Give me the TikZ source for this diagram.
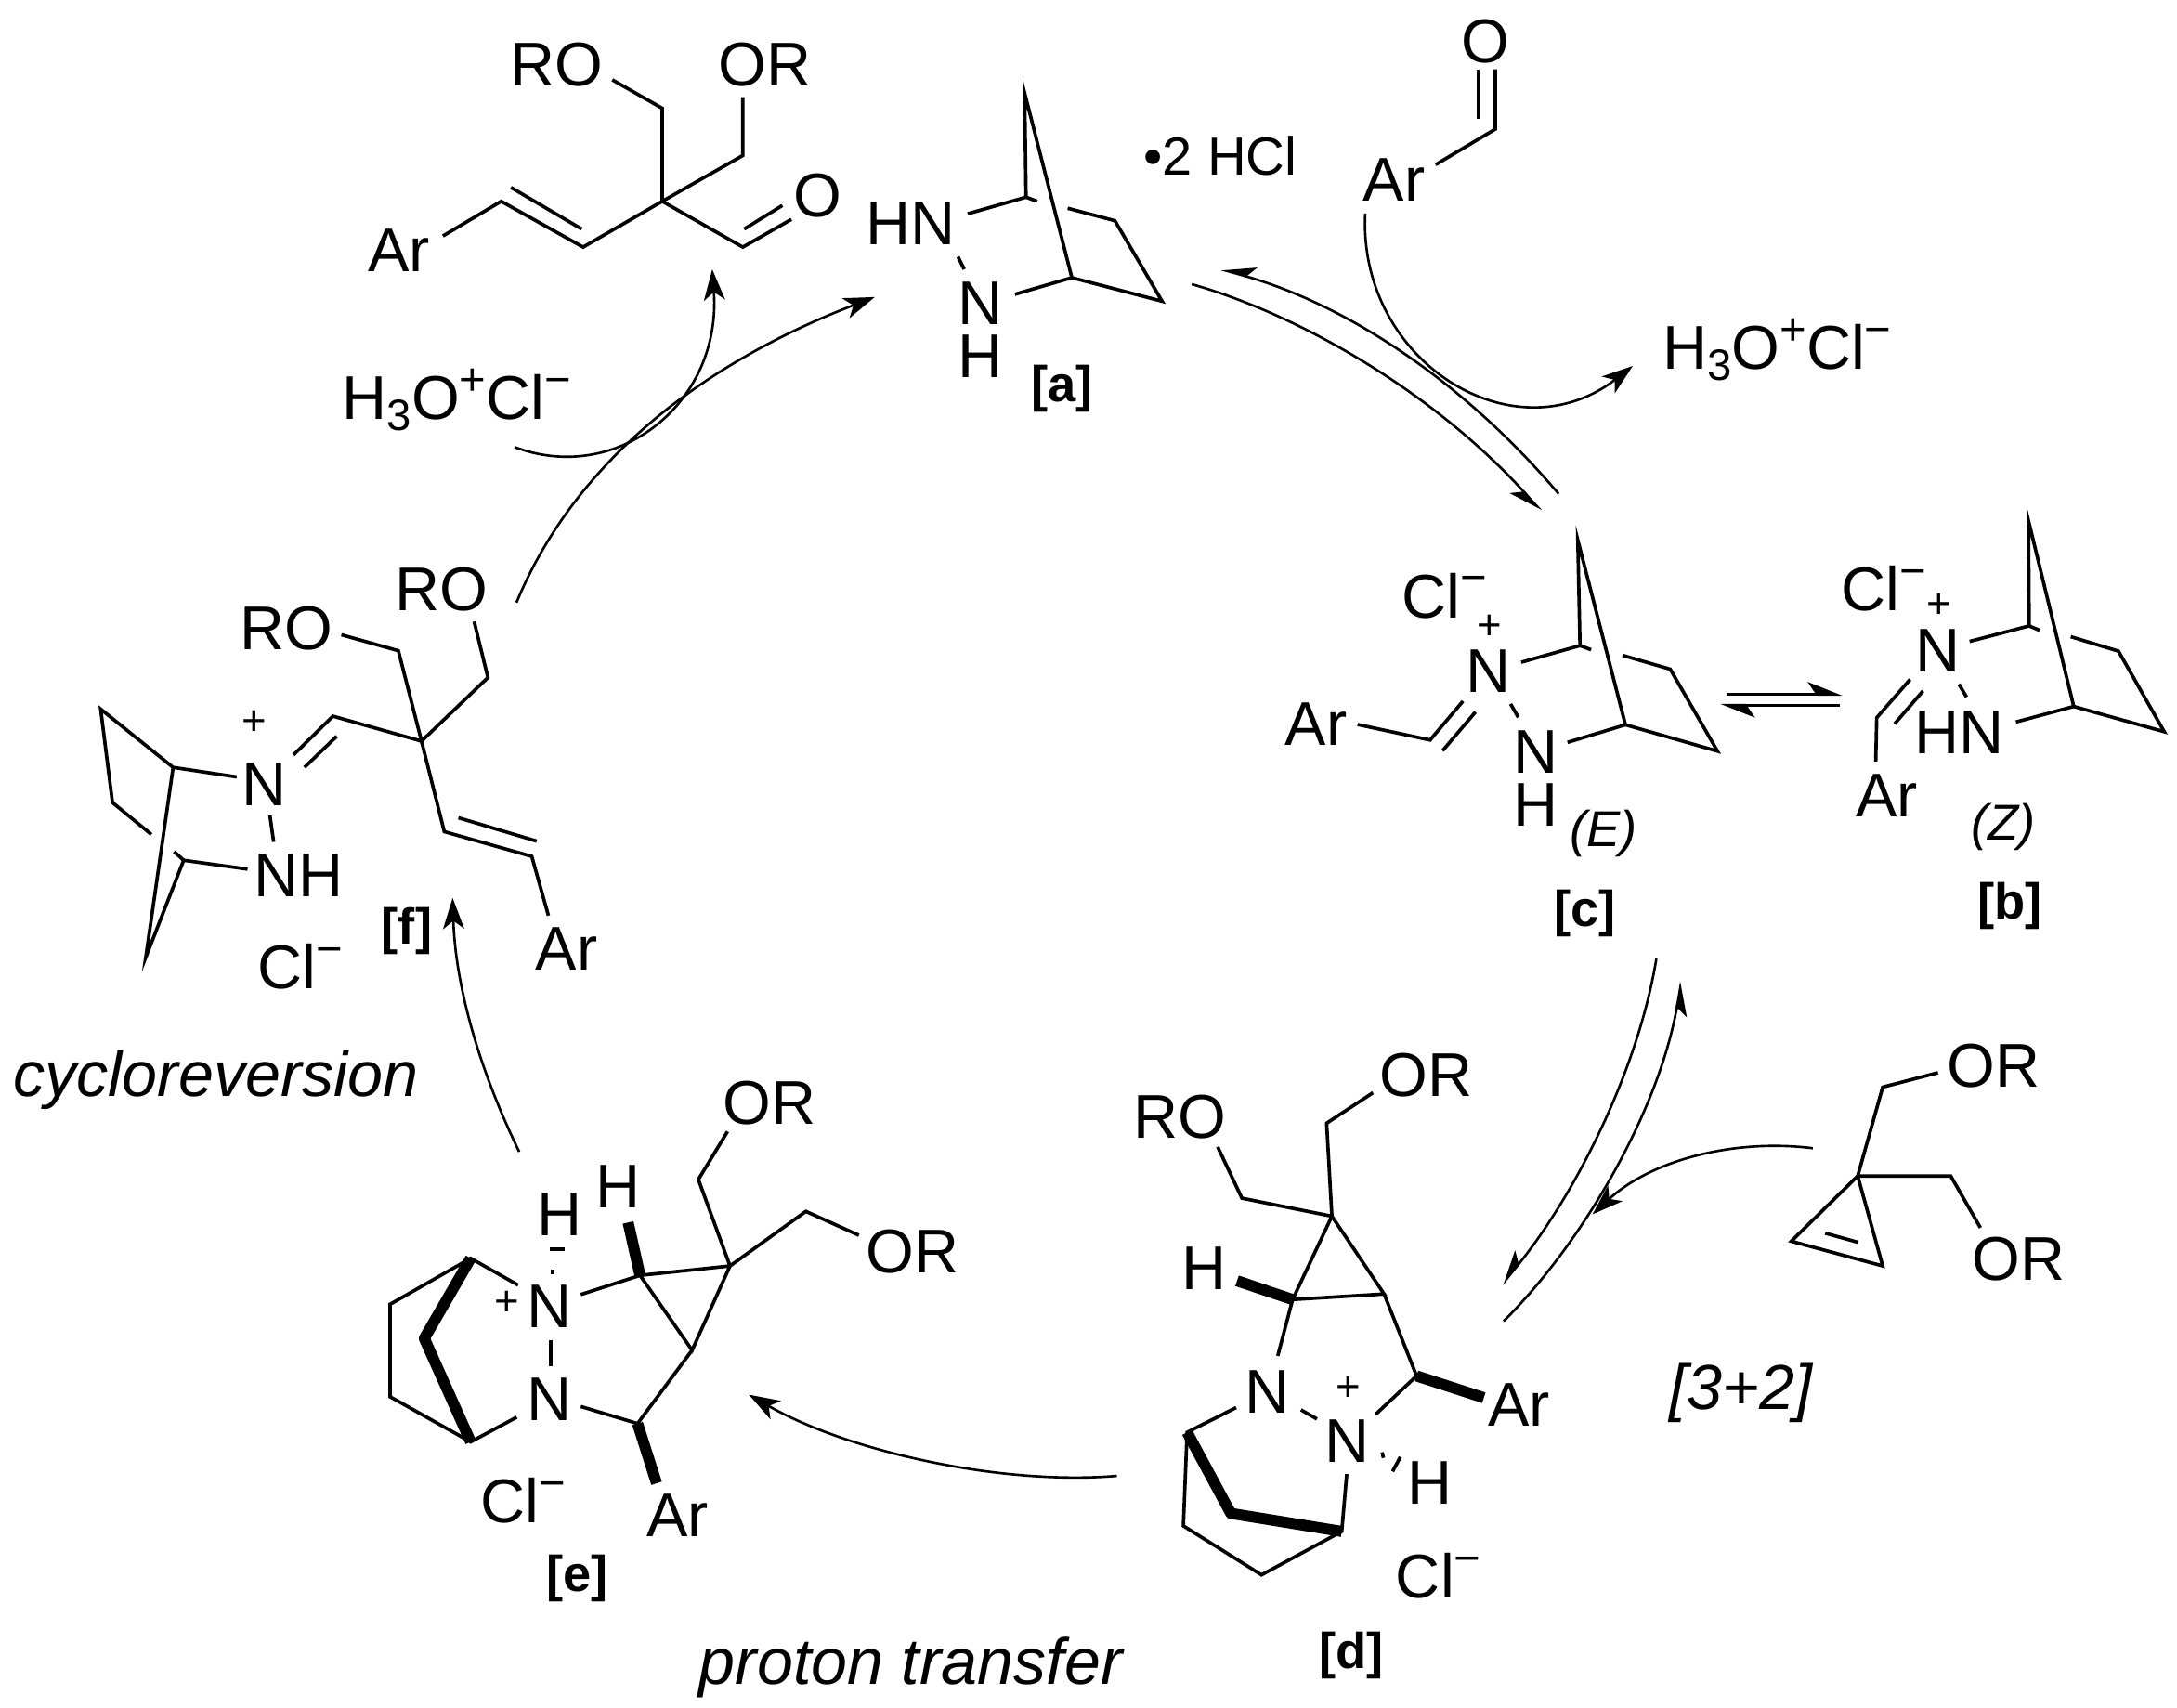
\documentclass[tikz,border=0pt]{standalone}
\usepackage{fontspec}
\setmainfont{Liberation Sans}
\usetikzlibrary{arrows.meta}
\newcommand{\clm}{Cl\raisebox{15pt}{\fontsize{28}{28}\selectfont −}}
\newcommand{\hyd}{H\raisebox{-7pt}{\fontsize{27}{27}\selectfont 3}O\raisebox{15pt}{\fontsize{28}{28}\selectfont +}\clm}
\tikzset{
  tx/.style={anchor=base,inner sep=0pt,font=\fontsize{38}{38}\selectfont},
  lbl/.style={anchor=base,inner sep=0pt,font=\fontsize{31}{31}\selectfont\bfseries},
  ez/.style={anchor=base,inner sep=0pt,font=\fontsize{31}{31}\selectfont\itshape},
  captxt/.style={anchor=base,inner sep=0pt,font=\fontsize{39}{39}\selectfont\itshape},
  chg/.style={anchor=center,inner sep=0pt,font=\fontsize{26}{26}\selectfont},
  bond/.style={line width=2.1pt},
  bold/.style={line width=6.8pt},
  curly/.style={line width=1.5pt,-{Stealth[length=19pt,width=13pt,inset=5pt]}},
  halfr/.style={line width=1.5pt,-{Stealth[length=19pt,width=14pt,inset=5pt,harpoon,swap]}},
  halfl/.style={line width=1.8pt,-{Stealth[length=19pt,width=15pt,inset=5pt,harpoon]}}
}
\begin{document}
\begin{tikzpicture}[x=0.03cm,y=-0.03cm]
\path[use as bounding box,fill=white] (0,0) rectangle (1568,1230.1);

% product (top left)
\node[tx] (pRO) at (401,62) {RO};
\node[tx] (pOR) at (551,62) {OR};
\node[tx] (pO) at (589,156) {O};
\node[tx] (pAr) at (287.5,196) {Ar};
\draw[bond] (319,170) -- (361,145) -- (420,178) -- (477,145) -- (477,78) -- (441,57.5);
\draw[bond] (368,135) -- (419,165);
\draw[bond] (477,145) -- (535,112) -- (535,70);
\draw[bond] (477,145) -- (535,178) -- (570,158);
\draw[bond] (536,165) -- (563.5,148);

% [a]
\node[tx] (aHN) at (656,176) {HN};
\node[tx] (aN) at (706,234) {N};
\node[tx] (aH) at (706,272) {H};
\node[lbl] (aL) at (765,289) {[a]};
\node[tx,font=\fontsize{33}{33}\selectfont] (aHCl) at (879,126) {•2 HCl};
\draw[bond] (697,154) -- (739,142) -- (738,67) -- (772,200) -- (837,217) -- (803,159) -- (769,150);
\draw[bond] (739,142) -- (747,145);
\draw[bond] (772,200) -- (731,212);
\draw[bond] (690,185) -- (694.5,194);

% acid and aldehyde
\node[tx] (hydL) at (329,302) {\hyd};
\node[tx] (hydR) at (1280,266) {\hyd};
\node[tx] (alAr) at (1004,145) {Ar};
\node[tx] (alO) at (1070,45) {O};
\draw[bond] (1034,118.6) -- (1077,93) -- (1077,50);
\draw[bond] (1064.7,85.4) -- (1064.7,50);

% [c]
\node[tx] (cCl) at (1040.5,445) {\clm};
\node[chg] (cP) at (1073,451.5) {+};
\node[tx] (cN1) at (1072,499) {N};
\node[tx] (cN2) at (1106,557) {N};
\node[tx] (cH) at (1106,595) {H};
\node[tx] (cAr) at (948,537) {Ar};
\node[ez] (cE) at (1155,610) {(E)};
\node[lbl] (cL) at (1141.5,667) {[c]};
\draw[bond] (1095.7,477) -- (1138,465) -- (1136.4,389) -- (1170.7,522) -- (1237,541) -- (1203,482) -- (1168.6,472);
\draw[bond] (1138,465) -- (1146,468);
\draw[bond] (1170.7,522) -- (1129,534.7);
\draw[bond] (1088,507) -- (1093.5,516.6);
\draw[bond] (977.8,521.8) -- (1030,533) -- (1053.7,505);
\draw[bond] (1039,540.7) -- (1062.7,512.8);

% [b]
\node[tx] (bCl) at (1357,440) {\clm};
\node[chg] (bP) at (1396.7,436.6) {+};
\node[tx] (bN) at (1396,484) {N};
\node[tx] (bHN) at (1411,543) {HN};
\node[tx] (bAr) at (1359,588) {Ar};
\node[ez] (bZ) at (1443,605) {(Z)};
\node[lbl] (bL) at (1447.5,662) {[b]};
\draw[bond] (1418.6,462) -- (1461.5,450.8) -- (1461,375) -- (1493.6,508.8) -- (1558.8,527) -- (1525.8,469) -- (1491.5,458.6);
\draw[bond] (1461.5,450.8) -- (1469,454);
\draw[bond] (1493.6,508.8) -- (1452,520);
\draw[bond] (1410.9,492.8) -- (1416.4,502);
\draw[bond] (1351,548.5) -- (1351.7,516.9) -- (1375.7,489.4);
\draw[bond] (1364.6,521.3) -- (1385,497.7);

% [d]
\node[tx] (dRO) at (850,820) {RO};
\node[tx] (dOR) at (1027,790) {OR};
\node[tx] (dH1) at (867,929) {H};
\node[tx] (dN1) at (913,1018) {N};
\node[chg] (dP) at (971,1000) {+};
\node[tx] (dN2) at (970,1053) {N};
\node[tx] (dH2) at (1030,1083.4) {H};
\node[tx] (dAr) at (1094,1027) {Ar};
\node[tx] (dCl) at (1036,1151) {\clm};
\node[lbl] (dL) at (973.5,1202) {[d]};
\draw[bond] (988.9,787) -- (955.5,809) -- (959.3,876) -- (894.5,863) -- (877,826);
\draw[bond] (959.3,876) -- (931,936) -- (996.9,932) -- cycle;
\draw[bond] (931,936) -- (920.3,976.6);
\draw[bond] (996.9,932) -- (1020.3,991) -- (990.8,1018.7);
\draw[bond] (937,1015.4) -- (948.5,1022);
\draw[bond] (890.3,1013.8) -- (855,1031.6) -- (852.3,1099) -- (908.6,1134.3) -- (966.4,1103) -- (970,1061.7);
\draw[bond] (995.5,1046) -- (996.4,1050);
\draw[bond] (1008.6,1049.4) -- (1003,1059.8);
\draw[bold] (891,922.5) -- (931,936);
\draw[bold] (1020.3,991) -- (1068.7,1006.7);
\draw[bold,line join=round] (855,1031.6) -- (886.5,1090) -- (966.4,1103);

% cyclopropene
\node[tx] (pcO1) at (1436,783) {OR};
\node[tx] (pcO2) at (1454,922) {OR};
\draw[bond] (1395.8,772.6) -- (1356,783) -- (1338,847) -- (1405,847) -- (1426.4,884.3);
\draw[bond] (1338,847) -- (1290.2,894) -- (1356,911.8) -- cycle;
\draw[bond] (1314.6,888.2) -- (1338,894.7);
\node[captxt] (cycl) at (1254,1015) {[3+2]};

% [e]
\node[tx] (eO1) at (554,810) {OR};
\node[tx] (eO2) at (657,917) {OR};
\node[tx] (eH1) at (445.5,870) {H};
\node[tx] (eH2) at (403,890) {H};
\node[tx] (eN1) at (396,956) {N};
\node[chg] (eP) at (365.4,939) {+};
\node[tx] (eN2) at (396,1023) {N};
\node[tx] (eCl) at (377,1097) {\clm};
\node[tx] (eAr) at (488,1107) {Ar};
\node[lbl] (eL) at (416,1146) {[e]};
\draw[bond] (524,815) -- (503,849.5) -- (525.8,911.8) -- (580.4,872.5) -- (618.6,889.7);
\draw[bond] (525.8,911.8) -- (461,918.6) -- (498.5,972.5) -- cycle;
\draw[bond] (418.3,932.4) -- (461,918.6);
\draw[bond] (498.5,972.5) -- (459.2,1025.3) -- (418.3,1013);
\draw[bond] (396.8,965) -- (396.8,984);
\draw[bond] (372.2,1020.7) -- (339,1038.5) -- (281,1006) -- (281,939.4) -- (339,906.3) -- (373.2,925.6);
\draw[bond] (396,899.5) -- (407,899.5);
\draw[bond] (398,914.5) -- (398,917.5);
\draw[bold] (452.4,880.5) -- (461,918.6);
\draw[bold] (459.2,1025.3) -- (472.9,1068.3);
\draw[bold,line join=round] (339,906.3) -- (305.6,964) -- (339,1038.5);
\node[captxt,font=\fontsize{40}{40}\selectfont\itshape] (ptr) at (656,1213) {proton transfer};
\node[captxt] (cyr) at (155.5,790) {cycloreversion};

% [f]
\node[tx] (fRO1) at (206.5,468) {RO};
\node[tx] (fRO2) at (318,440) {RO};
\node[chg] (fP) at (183.4,521) {+};
\node[tx] (fN) at (190,580) {N};
\node[tx] (fNH) at (215,646) {NH};
\node[tx] (fCl) at (216,712) {\clm};
\node[lbl] (fL) at (293,680) {[f]};
\node[tx] (fAr) at (408,699) {Ar};
\draw[bond] (245.9,457.2) -- (286.9,468.7) -- (303.6,533.8) -- (351.4,488) -- (341.5,447.7);
\draw[bond] (211.4,543.7) -- (239.8,515.8) -- (303.6,533.8) -- (320,599) -- (383,616.8) -- (395,659.5);
\draw[bond] (242.5,530.3) -- (219.3,552.7);
\draw[bond] (330.2,589) -- (386.5,605.8);
\draw[bond] (170.5,559.6) -- (124.7,552.7) -- (72.5,510.7) -- (81,578) -- (109,601);
\draw[bond] (124.7,552.7) -- (105,689.5) -- (132.3,619.6) -- (178.3,626);
\draw[bond] (125.4,613.4) -- (132.3,619.6);
\draw[bond] (194.4,587.3) -- (197.1,606.4);

% reaction arrows: free ends as named coordinates
\coordinate (r1s) at (372,434);     \coordinate (r1e) at (630,214);
\coordinate (r2s) at (370.6,322);   \coordinate (r2e) at (513,194);
\coordinate (r3s) at (858.4,204.7); \coordinate (r3e) at (1110,368);
\coordinate (r4s) at (1122.6,355.7);\coordinate (r4e) at (879.6,194);
\coordinate (r5s) at (983.3,153.8); \coordinate (r5e) at (1176,263.6);
\coordinate (r6s) at (1193,690.5);  \coordinate (r6e) at (1082,925);
\coordinate (r7s) at (1083,951.6);  \coordinate (r7e) at (1211,707);
\coordinate (r8s) at (1305.7,827);  \coordinate (r8e) at (1147,874.6);
\coordinate (r9s) at (804.4,1063);  \coordinate (r9e) at (539.4,1004.5);
\coordinate (r10s) at (374,829.6);  \coordinate (r10e) at (326,646.8);
\coordinate (r11s) at (1243.6,500); \coordinate (r11e) at (1327,500);
\coordinate (r12s) at (1325,508);   \coordinate (r12e) at (1239,508);
\draw[curly] (r1s) .. controls (415,330) and (510,260) .. (r1e);
\draw[curly] (r2s) .. controls (445,350) and (520,290) .. (r2e);
\draw[halfr] (r3s) .. controls (940,228) and (1035,285) .. (r3e);
\draw[halfr] (r4s) .. controls (1050,270) and (965,218) .. (r4e);
\draw[curly] (r5s) .. controls (978,260) and (1090,330) .. (r5e);
\draw[halfr] (r6s) .. controls (1180,770) and (1135,860) .. (r6e);
\draw[halfr] (r7s) .. controls (1140,895) and (1195,800) .. (r7e);
\draw[curly] (r8s) .. controls (1250,820) and (1190,835) .. (r8e);
\draw[curly] (r9s) .. controls (720,1070) and (610,1045) .. (r9e);
\draw[curly] (r10s) .. controls (345,770) and (328,710) .. (r10e);
\draw[halfl] (r11s) -- (r11e);
\draw[halfl] (r12s) -- (r12e);
\end{tikzpicture}
\end{document}
